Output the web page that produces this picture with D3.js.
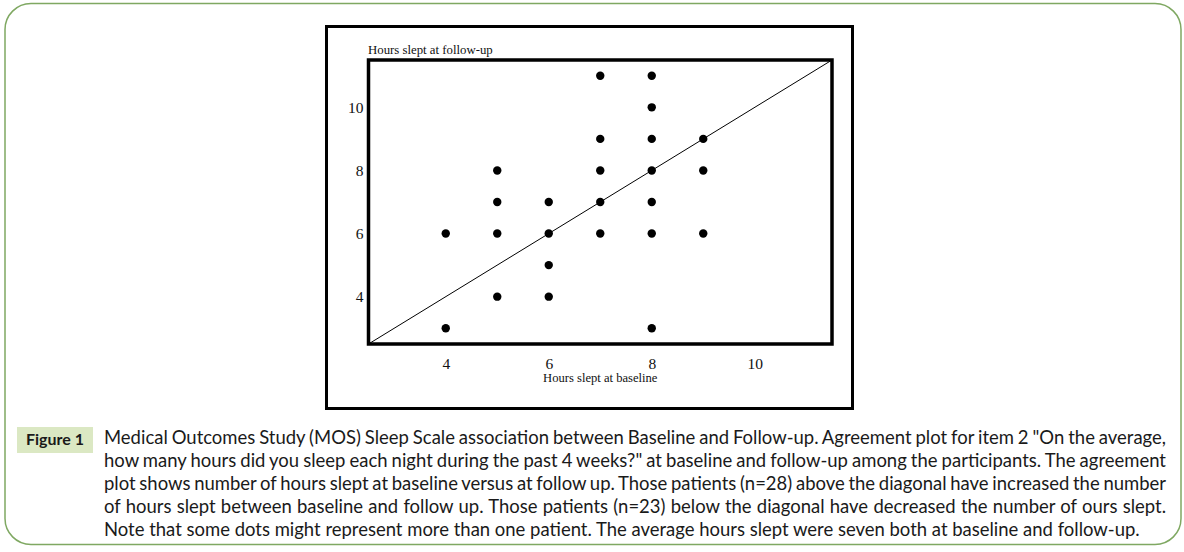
<!DOCTYPE html>
<meta charset="utf-8">
<style>
body { margin: 0; background: #fff; }
svg { display: block; }
.serif { font-family: "Liberation Serif", "Times New Roman", serif; fill: #111; }
.caption { font-family: Lato, "Open Sans", sans-serif; fill: #1a1a1a; }
</style>
<svg width="1184" height="552"></svg>
<script src="https://d3js.org/d3.v7.min.js"></script>
<script>

// hours slept: one entry per dot
var baseline = [4, 4, 5, 5, 5, 5, 6, 6, 6, 6, 7, 7, 7, 7, 7, 8, 8, 8, 8, 8, 8, 8, 9, 9, 9];
var followUp = [6, 3, 8, 7, 6, 4, 7, 6, 5, 4, 11, 9, 8, 7, 6, 11, 10, 9, 8, 7, 6, 3, 9, 8, 6];

var xTicks = [4, 6, 8, 10],
    yTicks = [4, 6, 8, 10];

var xTitle = "Hours slept at baseline",
    yTitle = "Hours slept at follow-up";

var figLabel = "Figure 1";
var captionLines = [
  "Medical Outcomes Study (MOS) Sleep Scale association between Baseline and Follow-up. Agreement plot for item 2 \"On the average,",
  "how many hours did you sleep each night during the past 4 weeks?\" at baseline and follow-up among the participants. The agreement",
  "plot shows number of hours slept at baseline versus at follow up. Those patients (n=28) above the diagonal have increased the number",
  "of hours slept between baseline and follow up. Those patients (n=23) below the diagonal have decreased the number of ours slept.",
  "Note that some dots might represent more than one patient. The average hours slept were seven both at baseline and follow-up."
];

var svg = d3.select("svg");

// outer rounded panel
svg.append("rect")
    .attr("x", 5).attr("y", 3.5)
    .attr("width", 1176).attr("height", 541)
    .attr("rx", 26).attr("ry", 26)
    .attr("fill", "none")
    .attr("stroke", "#7fa862")
    .attr("stroke-width", 1.5);

// black frame around the picture
svg.append("rect")
    .attr("x", 326.5).attr("y", 26.5)
    .attr("width", 526).attr("height", 382)
    .attr("fill", "#fff")
    .attr("stroke", "#000")
    .attr("stroke-width", 3);

var domain = [2.5, 11.5];
var x = d3.scaleLinear().domain(domain).range([368.5, 832]),
    y = d3.scaleLinear().domain(domain).range([344, 60]);

// diagonal of agreement
svg.append("line")
    .attr("x1", x(domain[0])).attr("y1", y(domain[0]))
    .attr("x2", x(domain[1])).attr("y2", y(domain[1]))
    .attr("stroke", "#000")
    .attr("stroke-width", 1);

// plot box
svg.append("rect")
    .attr("x", x(domain[0])).attr("y", y(domain[1]))
    .attr("width", x(domain[1]) - x(domain[0]))
    .attr("height", y(domain[0]) - y(domain[1]))
    .attr("fill", "none")
    .attr("stroke", "#000")
    .attr("stroke-width", 3.5);

// dots
svg.append("g")
  .selectAll("circle")
  .data(d3.range(baseline.length))
  .enter().append("circle")
    .attr("cx", function(i) { return x(baseline[i]); })
    .attr("cy", function(i) { return y(followUp[i]); })
    .attr("r", 4.2)
    .attr("fill", "#000");

// axes: labels only
var gx = svg.append("g")
    .attr("transform", "translate(0," + y(domain[0]) + ")")
    .call(d3.axisBottom(x).tickValues(xTicks).tickSize(0).tickPadding(14));
var gy = svg.append("g")
    .attr("transform", "translate(" + x(domain[0]) + ",0)")
    .call(d3.axisLeft(y).tickValues(yTicks).tickSize(0).tickPadding(5));

[gx, gy].forEach(function(g) {
  g.select(".domain").remove();
  g.attr("font-size", null).attr("font-family", null);
  g.selectAll("text")
      .attr("class", "serif")
      .attr("fill", "#111")
      .style("font-size", "15.5px");
});

svg.append("text")
    .attr("class", "serif")
    .attr("x", (x(domain[0]) + x(domain[1])) / 2)
    .attr("y", 381.5)
    .attr("text-anchor", "middle")
    .style("font-size", "12.6px")
    .text(xTitle);

svg.append("text")
    .attr("class", "serif")
    .attr("x", 368)
    .attr("y", 54)
    .style("font-size", "12.8px")
    .text(yTitle);

// caption
svg.append("rect")
    .attr("x", 17).attr("y", 427)
    .attr("width", 76).attr("height", 26)
    .attr("fill", "#dbe8c3");

svg.append("text")
    .attr("class", "caption")
    .attr("x", 55).attr("y", 445)
    .attr("text-anchor", "middle")
    .style("font-size", "16px")
    .style("font-weight", "bold")
    .text(figLabel);

var capLeft = 104, capRight = 1166, capTop = 444, lineH = 23;

var lines = svg.append("g").selectAll("text")
  .data(captionLines)
  .enter().append("text")
    .attr("class", "caption")
    .attr("x", capLeft)
    .attr("y", function(d, i) { return capTop + i * lineH; })
    .style("font-size", "16px")
    .text(function(d) { return d; });

// size the font so the unjustified last line fits its width, then justify the rest
var lastNode = lines.nodes()[captionLines.length - 1];
var fs = 16 * 1036 / lastNode.getComputedTextLength();
lines.style("font-size", fs + "px");

lines.each(function(d, i) {
  if (i === captionLines.length - 1) return;
  var w = this.getComputedTextLength(),
      spaces = d.split(" ").length - 1;
  d3.select(this).style("word-spacing", ((capRight - capLeft - w) / spaces) + "px");
});

</script>
